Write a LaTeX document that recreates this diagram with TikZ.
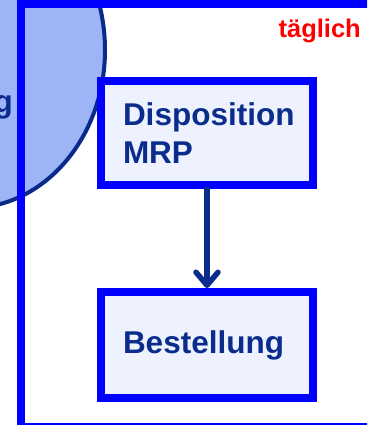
\documentclass[tikz,border=0pt]{standalone}
\usepackage{fontspec}
\setmainfont{Liberation Sans}
\usetikzlibrary{arrows.meta}
\definecolor{frameblue}{HTML}{0000FF}
\definecolor{boxfill}{HTML}{EEF2FE}
\definecolor{navy}{HTML}{0A2C8C}
\definecolor{ellfill}{HTML}{9DB5F7}
\definecolor{ellline}{HTML}{0A2A8A}
\definecolor{redtext}{HTML}{FF0000}
\tikzset{
  stepbox/.style={draw=frameblue, line width=8pt, fill=boxfill, rectangle,
    minimum width=212pt, text width=168pt, inner xsep=22pt, align=left,
    text=navy, font=\bfseries\fontsize{31.5}{38}\selectfont},
  flowarrow/.style={draw=navy, line width=5.5pt, line cap=round,
    -{Straight Barb[length=13pt,width=22pt,line cap=round,round]}},
  frameline/.style={draw=frameblue, line width=8pt},
  bubble/.style={fill=ellfill, draw=ellline, line width=4pt},
}
\begin{document}
\begin{tikzpicture}[x=1pt,y=-1pt]
\useasboundingbox (0,0) rectangle (367,425);
\clip (0,0) rectangle (367,425);
\fill[white] (0,0) rectangle (367,425);
\path[bubble] (-30,50) ellipse [x radius=135, y radius=158];
\node[anchor=base east, text=navy, font=\bfseries\fontsize{31.5}{38}\selectfont, inner sep=0pt] (gtext) at (13,112) {g};
\path[frameline] (21,4) rectangle (380,427);
\node[anchor=base east, text=redtext, font=\bfseries\fontsize{25.5}{30}\selectfont, inner sep=0pt] (daily) at (361,38) {täglich};
\node[stepbox, minimum height=104pt] (disp) at (207,133) {Disposition\\MRP};
\node[stepbox, minimum height=106pt] (best) at (207,345) {Bestellung};
\draw[flowarrow] (disp.south) -- (best.north);
\end{tikzpicture}
\end{document}
